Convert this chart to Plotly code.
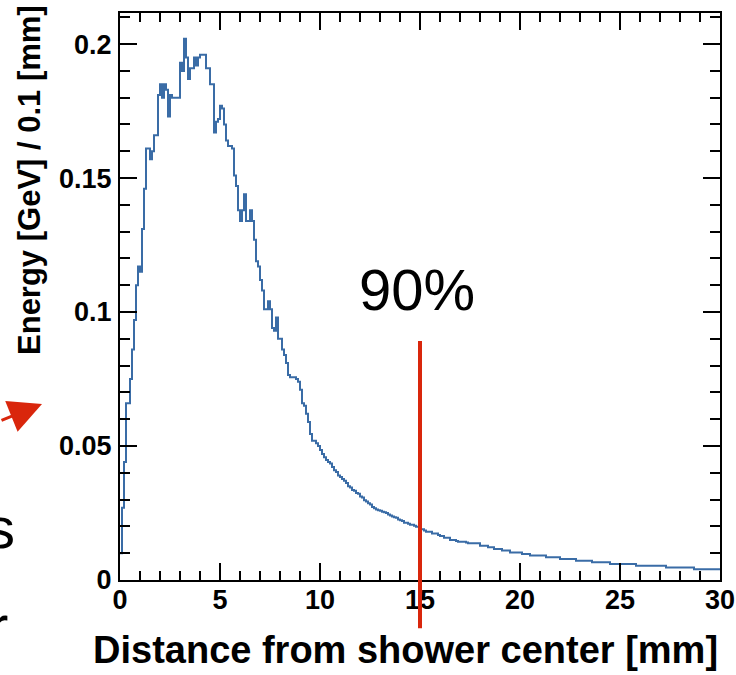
import plotly.graph_objects as go

# Histogram: left edge of each visible step (mm) and its height (GeV per 0.1 mm)
step_start_mm = [
    0.0, 0.1, 0.2, 0.3, 0.5, 0.6, 0.7, 0.8, 0.9, 1.0, 1.1, 1.2, 1.3, 1.5, 1.6, 1.7, 1.9,
    2.0, 2.1, 2.2, 2.3, 2.4, 2.5, 2.6, 3.0, 3.1, 3.2, 3.3, 3.4, 3.5, 3.7, 3.8, 3.9,
    4.0, 4.3, 4.5, 4.7, 4.8, 4.9, 5.0, 5.1, 5.2, 5.3, 5.4, 5.6, 5.7, 5.8, 5.9,
    6.0, 6.1, 6.2, 6.3, 6.5, 6.6, 6.7, 6.8, 6.9, 7.0, 7.1, 7.2, 7.4, 7.5, 7.6, 7.7, 7.8, 7.9,
    8.1, 8.2, 8.3, 8.4, 8.5, 8.8, 8.9, 9.0, 9.1, 9.2, 9.3, 9.4, 9.5, 9.6, 9.8, 9.9,
    10.0, 10.1, 10.2, 10.3, 10.4, 10.5, 10.6, 10.7, 10.8, 10.9,
    11.0, 11.1, 11.2, 11.3, 11.4, 11.5, 11.6, 11.7, 11.8, 11.9,
    12.0, 12.1, 12.2, 12.3, 12.4, 12.5, 12.6, 12.7, 12.8, 12.9,
    13.0, 13.1, 13.2, 13.3, 13.4, 13.5, 13.6, 13.7, 13.8, 13.9,
    14.0, 14.1, 14.2, 14.4, 14.5, 14.7, 14.8,
    15.0, 15.2, 15.3, 15.6, 15.9, 16.0, 16.2, 16.5, 16.8, 16.9, 17.3, 17.4,
    18.0, 18.4, 18.7, 19.1, 19.5, 20.1, 20.5, 21.3, 22.0, 22.8, 23.6, 24.5,
    25.8, 27.3, 28.7,
]
step_energy = [
    0.010, 0.027, 0.044, 0.066, 0.075, 0.086, 0.097, 0.110, 0.117, 0.115, 0.131, 0.146, 0.161, 0.157, 0.160, 0.166, 0.181,
    0.185, 0.180, 0.185, 0.183, 0.173, 0.181, 0.180, 0.193, 0.190, 0.202, 0.195, 0.187, 0.191, 0.195, 0.192, 0.195,
    0.196, 0.191, 0.185, 0.167, 0.171, 0.172, 0.177, 0.176, 0.170, 0.164, 0.162, 0.161, 0.151, 0.147, 0.138,
    0.134, 0.138, 0.144, 0.134, 0.138, 0.134, 0.127, 0.119, 0.117, 0.112, 0.108, 0.101, 0.104, 0.101, 0.094, 0.093, 0.098, 0.090,
    0.086, 0.084, 0.081, 0.0765, 0.0757, 0.075, 0.074, 0.071, 0.066, 0.065, 0.062, 0.059, 0.0545, 0.052, 0.051, 0.050,
    0.0485, 0.047, 0.0458, 0.0448, 0.044, 0.0435, 0.0422, 0.041, 0.0403, 0.039,
    0.0384, 0.0377, 0.0370, 0.0362, 0.0350, 0.0345, 0.0336, 0.0333, 0.0325, 0.0322,
    0.0312, 0.0308, 0.0298, 0.0293, 0.0286, 0.0282, 0.0272, 0.0268, 0.0263, 0.0260,
    0.0258, 0.0255, 0.0253, 0.0250, 0.0244, 0.0241, 0.0237, 0.0234, 0.0232, 0.0226,
    0.0223, 0.0220, 0.0214, 0.0210, 0.0206, 0.0202, 0.0199,
    0.0189, 0.0185, 0.0180, 0.0174, 0.0168, 0.0164, 0.0158, 0.0149, 0.0146, 0.0143, 0.0140, 0.0137,
    0.0128, 0.0122, 0.0116, 0.0110, 0.0103, 0.0097, 0.0091, 0.0085, 0.0078, 0.0072, 0.0066, 0.0060,
    0.0053, 0.0047, 0.0040,
]
x_end_mm = 30.0
x_range = [0, 30]
y_range = [0, 0.2116]
x_ticks = [0, 5, 10, 15, 20, 25, 30]
y_ticks = [0, 0.05, 0.1, 0.15, 0.2]
y_tick_labels = ["0", "0.05", "0.1", "0.15", "0.2"]
marker_mm = 15
marker_label = "90%"
x_title = "Distance from shower center [mm]"
y_title = "Energy [GeV] / 0.1 [mm]"

BOLD = dict(family="Liberation Sans, Arial, sans-serif", color="black", weight="bold")
RED = "#d9260c"

fig = go.Figure()
fig.add_trace(go.Scatter(
    x=step_start_mm + [x_end_mm],
    y=step_energy + [step_energy[-1]],
    mode="lines",
    line=dict(shape="hv", color="#3a6ca6", width=2),
    hoverinfo="skip",
    showlegend=False,
))

axis_common = dict(
    showgrid=False, zeroline=False, showline=True, linecolor="black", linewidth=2,
    mirror="ticks", ticks="inside", ticklen=17, tickwidth=2, tickcolor="black",
    tickfont=dict(size=27, **BOLD),
)
fig.update_xaxes(range=x_range, tickvals=x_ticks, ticktext=[str(v) for v in x_ticks],
                 minor=dict(dtick=1, ticks="inside", ticklen=9, tickwidth=2, tickcolor="black"),
                 ticklabelstandoff=-5, **axis_common)
fig.update_yaxes(range=y_range, tickvals=y_ticks, ticktext=y_tick_labels,
                 minor=dict(dtick=0.01, ticks="inside", ticklen=10, tickwidth=2, tickcolor="black"),
                 ticklabelstandoff=1, **axis_common)

# 90% containment line
fig.add_shape(type="line", xref="x", yref="paper", x0=marker_mm, x1=marker_mm,
              y0=-0.085, y1=0.4215, line=dict(color=RED, width=4), layer="above")

ann = []
ann.append(dict(text=marker_label, xref="x", yref="paper", x=marker_mm - 0.15, y=0.5115,
                xanchor="center", yanchor="middle", showarrow=False,
                font=dict(family="Liberation Sans, Arial, sans-serif", size=58, color="black")))
ann.append(dict(text=x_title, xref="paper", yref="paper", x=1.0, y=-0.1235,
                xanchor="right", yanchor="middle", showarrow=False, font=dict(size=38, **BOLD)))
ann.append(dict(text=y_title, xref="paper", yref="paper", x=-0.15, y=0.7055, textangle=-90,
                xanchor="center", yanchor="middle", showarrow=False, font=dict(size=31, **BOLD)))
# fragments of the surrounding slide
ann.append(dict(text="", xref="paper", yref="paper", x=-0.13, y=0.3104, ax=-46, ay=17,
                showarrow=True, arrowhead=2, arrowsize=2.2, arrowwidth=3, arrowcolor=RED))
ann.append(dict(text="s", xref="paper", yref="paper", x=-0.172, y=0.093, xanchor="right",
                yanchor="middle", showarrow=False,
                font=dict(family="Liberation Sans, Arial, sans-serif", size=58, color="black")))
ann.append(dict(text="r", xref="paper", yref="paper", x=-0.183, y=-0.08, xanchor="right",
                yanchor="middle", showarrow=False,
                font=dict(family="Liberation Sans, Arial, sans-serif", size=58, color="black")))

fig.update_layout(
    width=736, height=675,
    margin=dict(l=120, r=16, t=13, b=95, autoexpand=False),
    plot_bgcolor="white", paper_bgcolor="white",
    annotations=ann,
)
fig.write_html("out.html", config={"displayModeBar": False},
               post_script="document.body.style.margin='0';")
